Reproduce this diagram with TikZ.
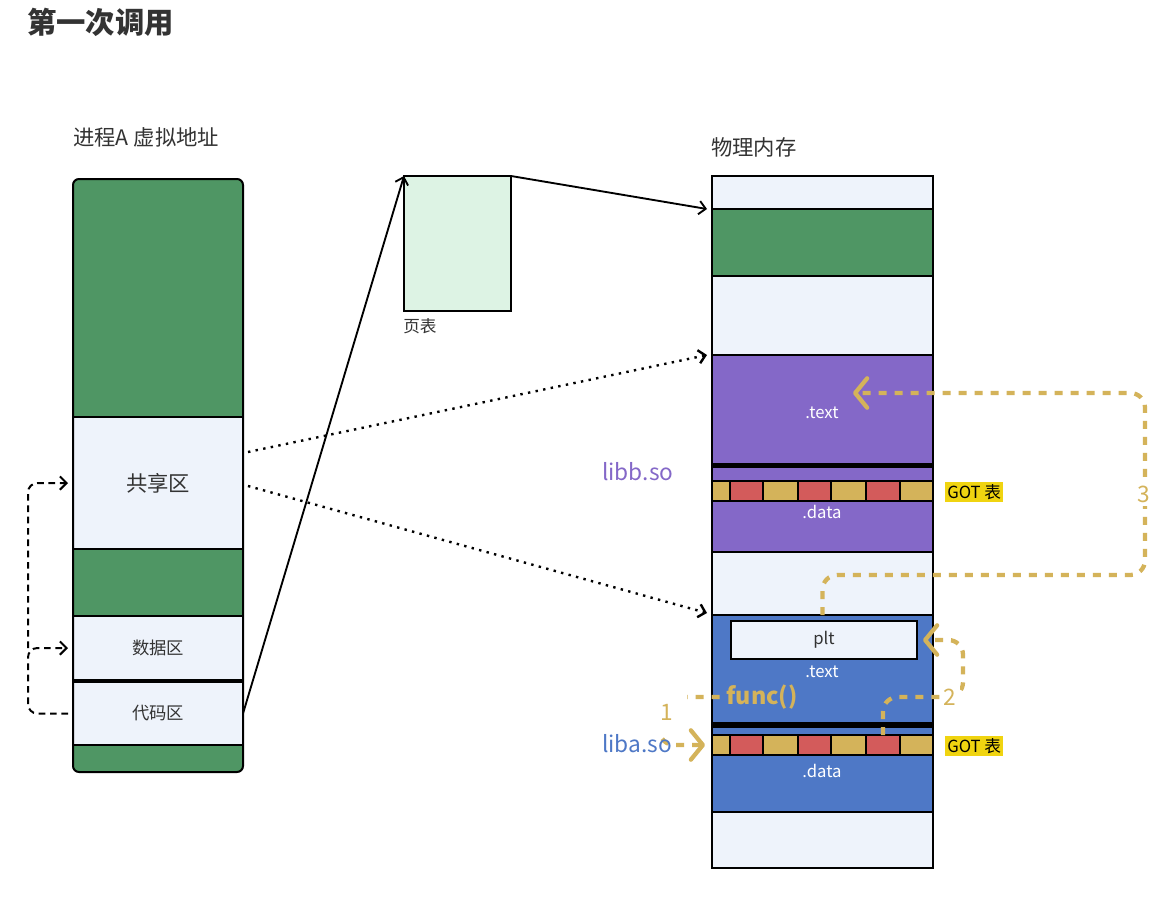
\documentclass[tikz,border=0pt]{standalone}
\usepackage{fontspec}
\setmainfont{Noto Sans CJK SC}
\usetikzlibrary{arrows.meta}
\definecolor{light}{HTML}{EEF3FB}
\definecolor{grn}{HTML}{4F9664}
\definecolor{ptfill}{HTML}{DDF3E4}
\definecolor{purp}{HTML}{8468C8}
\definecolor{blu}{HTML}{4E78C6}
\definecolor{gold}{HTML}{D4B35A}
\definecolor{redc}{HTML}{D35B5B}
\definecolor{gotbg}{HTML}{F0D410}
\definecolor{txt}{HTML}{333333}
\newcommand\sect[7]{\node[sec, fill=#6, minimum width={(#4-#2)*0.75pt}, minimum height={(#5-#3)*0.75pt}, anchor=north west] (#1) at (#2,#3) {#7};}
\newcommand\fs[1]{\fontsize{#1}{#1}\selectfont}
\tikzset{
  sec/.style={draw=black, line width=1.5pt, inner sep=0pt, outer sep=0pt},
  lbl/.style={inner sep=0pt, text=txt},
  wlbl/.style={inner sep=0pt, text=white, font=\fs{12.5pt}},
  blk/.style={line width=1.4pt, -{Straight Barb[length=5pt,width=10pt]}},
  dotl/.style={line width=1.8pt, dash pattern=on 1.8pt off 4pt, -{Straight Barb[length=5pt,width=10pt]}},
  dashl/.style={line width=1.5pt, dash pattern=on 5pt off 3.5pt, rounded corners=7pt, -{Straight Barb[length=5pt,width=10pt]}},
  goldarr/.style={draw=gold, line width=3.2pt, dash pattern=on 6pt off 6pt, rounded corners=11pt, -{Straight Barb[length=9pt,width=22pt,line cap=round,line join=round]}},
  goldnum/.style={text=gold, fill=white, font=\fs{17pt}, inner sep=3pt},
  gotlbl/.style={fill=gotbg, text=black, font=\fs{12.5pt}, inner sep=1.5pt},
}
\begin{document}
\begin{tikzpicture}[x=0.75pt,y=-0.75pt]
\useasboundingbox[fill=white] (0,0) rectangle (1164,900);

\node[anchor=west, inner sep=0pt, text=txt, font=\bfseries\fs{22pt}] (title) at (27,22) {第一次调用};
\node[lbl, anchor=west, font=\fs{16pt}] (vlabel) at (73,137) {进程A 虚拟地址};
\node[lbl, anchor=west, font=\fs{16pt}] (plabel) at (711,147) {物理内存};

% virtual address column
\begin{scope}
\clip[rounded corners=4.5pt] (73,179) rectangle (243,772);
\sect{vtop}{73}{179}{243}{417}{grn}{}
\sect{shared}{73}{417}{243}{549}{light}{\color{txt}\fs{16pt}共享区}
\sect{vmid}{73}{549}{243}{616}{grn}{}
\sect{data}{73}{616}{243}{680}{light}{\color{txt}\fs{13pt}数据区}
\sect{code}{73}{682}{243}{745}{light}{\color{txt}\fs{13pt}代码区}
\sect{vbot}{73}{745}{243}{772}{grn}{}
\end{scope}
\draw[line width=1.5pt, rounded corners=4.5pt] (73,179) rectangle (243,772);

% page table
\sect{pt}{404}{176}{511}{311}{ptfill}{}
\node[lbl, anchor=west, font=\fs{12.5pt}] (ptlabel) at (403,326) {页表};

% physical memory
\sect{p1}{712}{176}{933}{209}{light}{}
\sect{p2}{712}{209}{933}{276}{grn}{}
\sect{p3}{712}{276}{933}{355}{light}{}
\sect{btext}{712}{355}{933}{464}{purp}{}
\sect{bdata}{712}{467}{933}{552}{purp}{}
\sect{p4}{712}{552}{933}{615}{light}{}
\sect{atext}{712}{615}{933}{723}{blu}{}
\sect{adata}{712}{727}{933}{812}{blu}{}
\sect{p5}{712}{812}{933}{868}{light}{}
\draw[line width=3pt] (712,465.5) -- (933,465.5);
\draw[line width=3pt] (712,725) -- (933,725);
\draw[line width=1.5pt] (712,176) rectangle (933,868);

\foreach \a/\b/\c [count=\i] in {712/730/gold,730/763/redc,763/798/gold,798/831/redc,831/866/gold,866/900/redc,900/933/gold}{
  \sect{gotb\i}{\a}{481}{\b}{501}{\c}{}
  \sect{gota\i}{\a}{735}{\b}{755}{\c}{}
}

\node[wlbl] (btextlbl) at (822,413) {.text};
\node[wlbl] (bdatalbl) at (822,512) {.data};
\sect{plt}{731}{621}{917}{659}{light}{\color{txt}\fs{12.5pt}plt}
\node[wlbl] (atextlbl) at (822,672) {.text};
\node[wlbl] (adatalbl) at (822,771) {.data};

\node[gotlbl, anchor=west] (gotblbl) at (945,492) {GOT 表};
\node[gotlbl, anchor=west] (gotalbl) at (945,746) {GOT 表};

% black connectors
\draw[blk] (code.east) -- (pt.north west);
\draw[blk] (pt.north east) -- ([shift={(-5,0)}]p2.north west);
\draw[dotl] ([shift={(5,-31)}]shared.east) -- ([shift={(-5,0)}]btext.north west);
\draw[dotl] ([shift={(5,3)}]shared.east) -- ([shift={(-5,-2)}]atext.north west);
\draw[dashl] ([shift={(-5,0)}]code.west) -- ++(-40,0) |- ([shift={(-5,0)}]data.west);
\draw[dashl] ([shift={(-45,0)}]data.west) |- ([shift={(-5,0)}]shared.west);

% gold call path
\node[text=gold, font=\bfseries\fs{17.5pt}, inner sep=5pt] (func) at (762,697) {func()};
\coordinate (ttip) at (853,393);
\draw[goldarr] (func.west) -- ++(-60,0) |- ([shift={(-7,0)}]gota1.west);
\draw[goldarr] (gota6.north) |- (963,697) |- ([shift={(6,0)}]plt.east);
\draw[goldarr] (atext.north) |- (1145,575) |- (ttip);
\node[goldnum, minimum width=30pt, minimum height=33pt] (n1) at (667,712) {1};
\node[goldnum] (n2) at (950,697) {2};
\node[goldnum] (n3) at (1144,494) {3};

\node[inner sep=0pt, anchor=west, text=purp, font=\fs{17pt}] (libb) at (602,472) {libb.so};
\node[inner sep=0pt, anchor=west, text=blu, font=\fs{17pt}] (liba) at (602,744) {liba.so};
\end{tikzpicture}
\end{document}
